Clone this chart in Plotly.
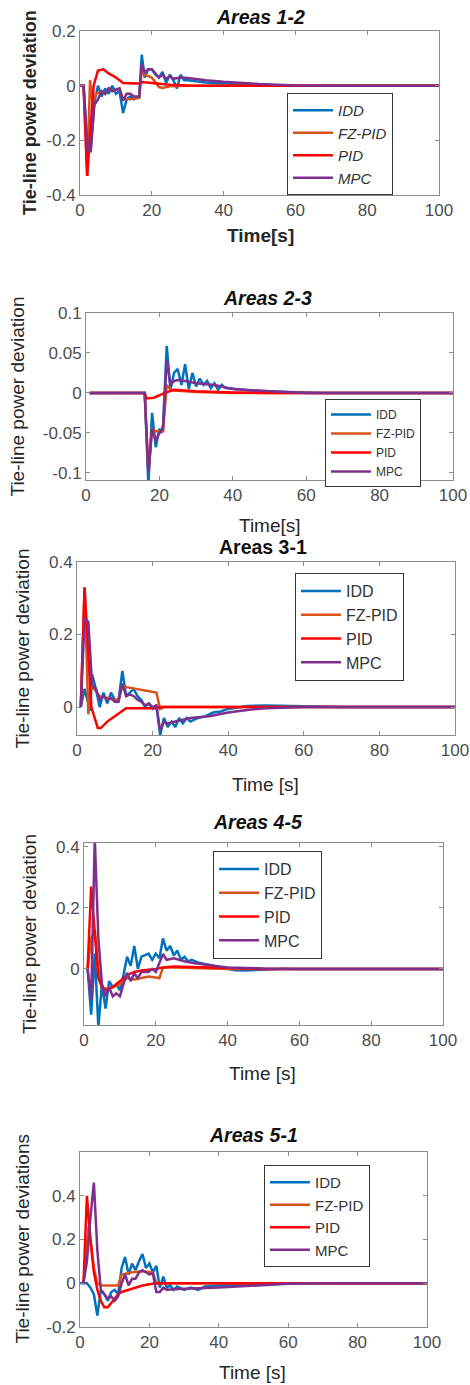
import plotly.graph_objects as go

# ---------------- data ----------------
SERIES = ["IDD", "FZ-PID", "PID", "MPC"]
COLORS = ["#0072BD", "#D95319", "#FF0000", "#7E2F8E"]

X_TICKS = [0, 20, 40, 60, 80, 100]

# Areas 1-2
a12_idd_t = [0, 1, 2, 3, 4, 5, 6, 7, 8, 9, 10, 11, 12, 13, 14, 15, 16.5, 17.2, 18, 19, 20, 21, 22, 23, 24, 25, 26, 27, 28, 29, 30, 32, 35, 40, 45, 50, 55, 60, 100]
a12_idd_y = [0, 0, -0.24, -0.23, -0.06, 0.0, -0.04, -0.01, -0.03, 0.0, -0.03, -0.02, -0.1, -0.05, -0.04, -0.05, -0.04, 0.113, 0.03, 0.06, 0.06, 0.04, 0.03, 0.05, 0.01, 0.04, 0.02, -0.01, 0.04, 0.02, 0.02, 0.016, 0.012, 0.008, 0.005, 0.003, 0.001, 0, 0]
a12_fz_t = [0, 1, 2, 2.8, 3.5, 4.5, 6, 7, 8, 9, 10, 11, 12, 13, 14, 16.5, 17.2, 18, 20, 22, 23, 25, 30, 100]
a12_fz_y = [0, 0, -0.33, 0.02, -0.06, -0.03, -0.02, -0.03, -0.01, -0.02, -0.015, -0.01, -0.05, -0.05, -0.05, -0.045, 0.06, 0.04, 0.03, -0.005, -0.008, -0.002, 0, 0]
a12_pid_t = [0, 1, 2, 3, 3.8, 5, 6.5, 8, 10, 12, 16.5, 17.2, 20, 22, 25, 30, 40, 100]
a12_pid_y = [0, 0, -0.33, -0.15, 0.0, 0.055, 0.06, 0.045, 0.03, 0.01, 0.008, 0.013, 0.01, 0.006, 0.003, 0.001, 0, 0]
a12_mpc_t = [0, 1, 2.2, 3, 4, 5, 6, 7, 8, 9, 10, 11, 12, 13, 14, 15, 16.5, 17.2, 18, 19, 20, 21, 22, 23, 24, 25, 26, 28, 30, 35, 40, 50, 60, 70, 100]
a12_mpc_y = [0, 0, -0.24, -0.24, -0.07, -0.05, -0.02, -0.03, -0.01, -0.02, -0.015, -0.01, -0.055, -0.03, -0.03, -0.04, -0.04, 0.08, 0.05, 0.06, 0.06, 0.045, 0.03, 0.04, 0.025, 0.035, 0.025, 0.03, 0.028, 0.02, 0.014, 0.006, 0.001, 0, 0]
a12_yticks = [-0.4, -0.2, 0, 0.2]
a12_yticktext = ["-0.4", "-0.2", "0", "0.2"]

# Areas 2-3
a23_idd_t = [1, 16, 17, 18, 19, 20, 20.5, 21, 22, 23, 24, 25, 26, 27, 28, 29, 30, 31, 32, 33, 34, 35, 36, 37, 38, 40, 45, 55, 65, 100]
a23_idd_y = [0, 0, -0.115, -0.025, -0.068, -0.045, -0.05, -0.04, 0.059, 0.004, 0.025, 0.03, 0.01, 0.036, 0.005, 0.025, 0.008, 0.018, 0.01, 0.015, 0.006, 0.012, 0.004, 0.01, 0.006, 0.005, 0.003, 0.001, 0, 0]
a23_fz_t = [1, 16, 17, 18, 19, 21, 22, 23, 24, 30, 40, 100]
a23_fz_y = [0, 0, -0.1, -0.045, -0.048, -0.048, 0.01, 0.004, 0.003, 0.001, 0, 0]
a23_pid_t = [1, 16, 16.5, 18.5, 21.5, 24, 30, 40, 50, 100]
a23_pid_y = [0, 0, -0.007, -0.006, 0.0, 0.004, 0.002, 0.0005, 0, 0]
a23_mpc_t = [1, 16, 17, 18, 19, 20, 21, 22, 23, 24, 25, 27, 30, 35, 40, 50, 60, 100]
a23_mpc_y = [0, 0, -0.1, -0.045, -0.06, -0.05, -0.045, 0.042, 0.01, 0.015, 0.016, 0.015, 0.012, 0.01, 0.005, 0.002, 0, 0]
a23_yticks = [-0.1, -0.05, 0, 0.05, 0.1]
a23_yticktext = ["-0.1", "-0.05", "0", "0.05", "0.1"]

# Areas 3-1
a31_idd_t = [1, 2, 3.5, 4, 5, 6, 7, 8, 9, 10, 11, 12, 13, 14, 15, 16, 17, 18, 19, 20, 21, 22, 23, 24, 25, 26, 27, 28, 29, 30, 32, 34, 36, 38, 40, 45, 50, 60, 70, 100]
a31_idd_y = [0, 0.05, -0.01, 0.09, 0.05, 0.0, 0.04, 0.01, 0.04, 0.02, 0.02, 0.1, 0.03, 0.04, 0.05, 0.03, 0.02, 0.0, 0.01, -0.005, 0.005, -0.078, -0.03, -0.055, -0.04, -0.055, -0.03, -0.045, -0.03, -0.04, -0.03, -0.025, -0.015, -0.012, -0.005, 0.003, 0.004, 0.002, 0, 0]
a31_fz_t = [1, 2, 3, 3.6, 4.5, 6, 8, 10, 11, 12, 13, 21, 22, 23, 30, 100]
a31_fz_y = [0, 0.33, -0.02, 0.055, 0.05, 0.03, 0.025, 0.02, 0.02, 0.06, 0.055, 0.04, -0.005, 0.0, 0.0, 0]
a31_pid_t = [1, 2, 3.8, 5.5, 6.3, 8, 10, 12, 13, 21, 22, 30, 100]
a31_pid_y = [0, 0.33, 0.0, -0.058, -0.058, -0.04, -0.025, -0.01, -0.003, -0.003, 0.0, 0.0, 0]
a31_mpc_t = [1, 2, 3, 4, 5, 6, 7, 8, 9, 10, 11, 12, 13, 14, 15, 16, 17, 18, 19, 20, 21, 22, 23, 24, 26, 28, 30, 35, 40, 45, 50, 60, 100]
a31_mpc_y = [0, 0.245, 0.235, 0.06, 0.05, 0.02, 0.03, 0.02, 0.025, 0.015, 0.015, 0.065, 0.03, 0.035, 0.03, 0.02, 0.015, 0.005, 0.01, 0.0, 0.005, -0.065, -0.04, -0.045, -0.04, -0.035, -0.03, -0.025, -0.015, -0.008, -0.003, 0, 0]
a31_yticks = [0, 0.2, 0.4]
a31_yticktext = ["0", "0.2", "0.4"]

# Areas 4-5
a45_idd_t = [1, 2, 3, 4, 5, 6, 7, 8, 9, 10, 11, 12, 13, 14, 15, 16, 17, 18, 19, 20, 21, 22, 23, 24, 25, 26, 27, 28, 29, 30, 32, 34, 36, 38, 40, 42, 45, 50, 55, 100]
a45_idd_y = [0, -0.15, 0.05, -0.19, -0.05, -0.13, -0.04, -0.06, -0.05, -0.07, -0.02, 0.04, 0.01, 0.075, 0.0, 0.04, 0.045, 0.05, 0.03, 0.05, 0.035, 0.1, 0.06, 0.075, 0.045, 0.06, 0.03, 0.04, 0.025, 0.03, 0.02, 0.015, 0.01, 0.005, 0.0, -0.004, -0.005, -0.003, 0.0, 0]
a45_fz_t = [1, 2, 3, 4, 5, 6, 8, 10, 12, 14, 16, 18, 21, 22, 25, 30, 40, 100]
a45_fz_y = [0, 0.1, 0.127, 0.0, -0.06, -0.065, -0.06, -0.05, -0.03, -0.035, -0.03, -0.025, -0.03, 0.005, 0.005, 0.003, 0, 0]
a45_pid_t = [1, 2, 3, 4, 5, 6, 7, 8, 10, 12, 14, 16, 20, 22, 25, 30, 40, 50, 100]
a45_pid_y = [0, 0.27, 0.12, -0.03, -0.06, -0.07, -0.065, -0.06, -0.04, -0.02, -0.01, -0.005, 0.0, 0.005, 0.008, 0.006, 0.002, 0, 0]
a45_mpc_t = [1, 2, 3, 4, 5, 6, 7, 8, 9, 10, 11, 12, 13, 14, 15, 16, 18, 19, 20, 22, 23, 25, 28, 30, 35, 40, 50, 60, 100]
a45_mpc_y = [0, -0.1, 0.43, 0.1, -0.05, -0.09, -0.06, -0.09, -0.08, -0.09, -0.05, -0.013, -0.04, -0.015, -0.03, -0.01, -0.01, 0.0, -0.01, 0.049, 0.03, 0.035, 0.025, 0.02, 0.012, 0.005, 0.001, 0, 0]
a45_yticks = [0, 0.2, 0.4]
a45_yticktext = ["0", "0.2", "0.4"]

# Areas 5-1
a51_idd_t = [0, 2, 3, 4, 5, 6, 7, 8, 9, 10, 11, 12, 13, 14, 15, 16, 17, 18, 19, 20, 21, 22, 23, 24, 25, 26, 27, 28, 30, 32, 34, 36, 40, 50, 60, 100]
a51_idd_y = [0, 0.0, -0.02, -0.05, -0.148, -0.03, -0.05, -0.08, -0.04, -0.03, -0.05, 0.07, 0.12, 0.04, 0.09, 0.06, 0.1, 0.134, 0.07, 0.09, 0.05, 0.08, -0.02, 0.03, -0.02, -0.01, -0.03, -0.015, -0.03, -0.02, -0.03, -0.015, -0.01, -0.005, 0, 0]
a51_fz_t = [1, 2, 2.5, 3, 4, 5, 6, 11, 12, 15, 18, 21, 22, 25, 100]
a51_fz_y = [0, 0.2, 0.26, 0.2, 0.07, 0.0, -0.01, -0.01, 0.04, 0.05, 0.055, 0.05, 0.0, 0.0, 0]
a51_pid_t = [1, 2, 3, 4, 5, 6, 7, 8, 9, 10, 11, 12, 14, 16, 18, 20, 22, 25, 100]
a51_pid_y = [0, 0.4, 0.2, 0.05, -0.03, -0.08, -0.11, -0.11, -0.09, -0.07, -0.05, -0.04, -0.03, -0.02, -0.01, -0.005, 0.0, 0.0, 0]
a51_mpc_t = [1, 2, 3, 4, 5, 6, 7, 8, 9, 10, 11, 12, 13, 14, 15, 16, 17, 18, 19, 20, 21, 22, 23, 24, 25, 30, 40, 50, 60, 70, 100]
a51_mpc_y = [0, 0.1, 0.3, 0.46, 0.15, -0.03, -0.05, -0.07, -0.06, -0.08, -0.06, 0.0, 0.04, -0.01, 0.02, 0.02, 0.05, 0.06, 0.05, 0.04, 0.045, -0.04, -0.04, -0.02, -0.03, -0.025, -0.02, -0.01, -0.002, 0, 0]
a51_yticks = [-0.2, 0, 0.2, 0.4]
a51_yticktext = ["-0.2", "0", "0.2", "0.4"]

# ---------------- layout of the five panels (pixels) ----------------
W, H = 470, 1385
FONT = "Liberation Sans, Arial, sans-serif"

panels = [
    dict(title="<b><i>Areas 1-2</i></b>", tx=260, ty=17,
         box=(80, 439, 31, 195), yr=[-0.4, 0.2],
         ytitle="<b>Tie-line power deviation</b>", ytx=30, ysize=18,
         xtitle="<b>Time[s]</b>", xtx=260, xty=236,
         leg=(287, 93), legfont=15, legstyle="italic",
         series=[(a12_idd_t, a12_idd_y), (a12_fz_t, a12_fz_y), (a12_pid_t, a12_pid_y), (a12_mpc_t, a12_mpc_y)],
         yt=(a12_yticks, a12_yticktext)),
    dict(title="<b><i>Areas 2-3</i></b>", tx=267, ty=298,
         box=(86, 453, 313, 480), yr=[-0.109, 0.1],
         ytitle="Tie-line power deviation", ytx=17, ysize=19,
         xtitle="Time[s]", xtx=270, xty=525,
         leg=(325, 399), legfont=12, legstyle="normal",
         series=[(a23_idd_t, a23_idd_y), (a23_fz_t, a23_fz_y), (a23_pid_t, a23_pid_y), (a23_mpc_t, a23_mpc_y)],
         yt=(a23_yticks, a23_yticktext)),
    dict(title="<b>Areas 3-1</b>", tx=263, ty=547,
         box=(77, 455, 562, 735), yr=[-0.077, 0.4],
         ytitle="Tie-line power deviation", ytx=22, ysize=19,
         xtitle="Time [s]", xtx=265, xty=785,
         leg=(295, 573), legfont=16, legstyle="normal",
         series=[(a31_idd_t, a31_idd_y), (a31_fz_t, a31_fz_y), (a31_pid_t, a31_pid_y), (a31_mpc_t, a31_mpc_y)],
         yt=(a31_yticks, a31_yticktext)),
    dict(title="<b><i>Areas 4-5</i></b>", tx=258, ty=822,
         box=(84, 443, 843, 1025), yr=[-0.184, 0.413],
         ytitle="Tie-line power deviation", ytx=29, ysize=19,
         xtitle="Time [s]", xtx=262, xty=1073,
         leg=(213, 851), legfont=16, legstyle="normal",
         series=[(a45_idd_t, a45_idd_y), (a45_fz_t, a45_fz_y), (a45_pid_t, a45_pid_y), (a45_mpc_t, a45_mpc_y)],
         yt=(a45_yticks, a45_yticktext)),
    dict(title="<b><i>Areas 5-1</i></b>", tx=253, ty=1135,
         box=(80, 427, 1152, 1327), yr=[-0.2, 0.6],
         ytitle="Tie-line power deviations", ytx=22, ysize=19,
         xtitle="Time [s]", xtx=252, xty=1372,
         leg=(264, 1165), legfont=15, legstyle="normal",
         series=[(a51_idd_t, a51_idd_y), (a51_fz_t, a51_fz_y), (a51_pid_t, a51_pid_y), (a51_mpc_t, a51_mpc_y)],
         yt=(a51_yticks, a51_yticktext)),
]

fig = go.Figure()
annotations = []
layout = {}

for i, p in enumerate(panels, start=1):
    sfx = "" if i == 1 else str(i)
    leg_name = "legend" + sfx
    x0, x1, y0, y1 = p["box"]
    for name, color, (t, y) in zip(SERIES, COLORS, p["series"]):
        fig.add_trace(go.Scatter(
            x=t, y=y, mode="lines", name=name,
            line=dict(color=color, width=2.5),
            xaxis="x" + sfx, yaxis="y" + sfx, legend=leg_name,
        ))

    axis_common = dict(
        showline=True, linecolor="#8c8c8c", linewidth=1, mirror="ticks",
        ticks="inside", ticklen=4, tickcolor="#8c8c8c",
        showgrid=False, zeroline=False, automargin=False,
        tickfont=dict(family=FONT, size=17, color="#4d4d4d"),
    )
    layout["xaxis" + sfx] = dict(
        axis_common, domain=[x0 / W, x1 / W], range=[0, 100],
        tickvals=X_TICKS, anchor="y" + sfx,
    )
    layout["yaxis" + sfx] = dict(
        axis_common, domain=[1 - y1 / H, 1 - y0 / H], range=p["yr"],
        tickvals=p["yt"][0], ticktext=p["yt"][1], anchor="x" + sfx,
    )
    layout[leg_name] = dict(
        x=p["leg"][0] / W, y=1 - p["leg"][1] / H, xanchor="left", yanchor="top",
        bgcolor="white", bordercolor="#333333", borderwidth=1,
        font=dict(family=FONT, size=p["legfont"], color="#333333", style=p["legstyle"]),
        itemwidth=40, traceorder="normal", tracegroupgap=0,
    )

    common_ann = dict(xref="paper", yref="paper", showarrow=False,
                      xanchor="center", yanchor="middle")
    annotations.append(dict(common_ann, text=p["title"], x=p["tx"] / W, y=1 - p["ty"] / H,
                            font=dict(family=FONT, size=19.5, color="#111111")))
    annotations.append(dict(common_ann, text=p["xtitle"], x=p["xtx"] / W, y=1 - p["xty"] / H,
                            font=dict(family=FONT, size=19, color="#262626")))
    annotations.append(dict(common_ann, text=p["ytitle"], x=p["ytx"] / W, y=1 - ((y0 + y1) / 2) / H,
                            textangle=-90,
                            font=dict(family=FONT, size=p["ysize"], color="#262626")))

fig.update_layout(
    width=W, height=H,
    margin=dict(l=0, r=0, t=0, b=0, autoexpand=False),
    paper_bgcolor="white", plot_bgcolor="white",
    showlegend=True,
    annotations=annotations,
    **layout,
)

# drop the browser's default 8px page margin so the figure sits at (0, 0)
fig.write_html("out.html", config={"displayModeBar": False},
               post_script="document.body.style.margin='0px';")
